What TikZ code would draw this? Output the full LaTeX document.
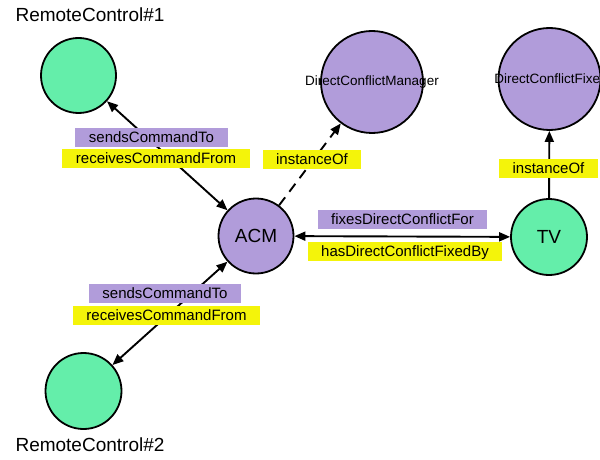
\documentclass[tikz,border=0pt]{standalone}
\usepackage{fontspec}
\setmainfont{Liberation Sans}
\usetikzlibrary{arrows.meta}
\definecolor{ngreen}{RGB}{100,238,170}
\definecolor{npurple}{RGB}{177,156,218}
\definecolor{lyellow}{RGB}{244,244,10}
\begin{document}
\begin{tikzpicture}[x=1pt,y=-1pt,
  ent/.style={circle,draw=black,line width=1.8pt,inner sep=0pt},
  gnode/.style={ent,fill=ngreen},
  pnode/.style={ent,fill=npurple},
  big/.style={font=\fontsize{19}{22}\selectfont},
  small/.style={font=\fontsize{13.5}{16}\selectfont},
  lab/.style={font=\fontsize{15}{18}\selectfont,inner xsep=13.5pt,inner ysep=0pt,minimum height=19pt,text depth=0pt},
  plab/.style={lab,fill=npurple},
  ylab/.style={lab,fill=lyellow},
  edge/.style={line width=1.9pt,draw=black},
  tip/.style={-{Triangle[length=11pt,width=9pt]}},
  dtip/.style={{Triangle[length=11pt,width=9pt]}-{Triangle[length=11pt,width=9pt]}}
]
\clip (0,0) rectangle (600,460);
\fill[white] (0,0) rectangle (600,460);

% nodes
\node[gnode,minimum size=75pt] (rc1) at (78.5,75.5) {};
\node[gnode,minimum size=76pt] (rc2) at (83.5,391) {};
\node[pnode,minimum size=75pt,big] (acm) at (256,236) {ACM};
\node[gnode,minimum size=76pt,big] (tv) at (549,237) {TV};
\node[pnode,minimum size=102pt] (dcm) at (372,82) {};
\node[pnode,minimum size=102pt] (dcf) at (549.5,79) {};
\node[small] (dcmt) at (dcm.center) {DirectConflictManager};
\node[small] (dcft) at (dcf.center) {DirectConflictFixer};

\node[big,anchor=base west] (rc1t) at (12,22) {RemoteControl\#1};
\node[big,anchor=base west] (rc2t) at (12,451) {RemoteControl\#2};

% edges
\draw[edge,dtip] (acm) -- (rc1);
\draw[edge,dtip] (acm) -- (rc2);
\draw[edge,dtip] (acm) -- (tv);
\draw[edge,tip,dash pattern=on 10pt off 7pt] (acm) -- (dcm);
\draw[edge,tip] (tv) -- (dcf);

% labels
\node[plab] (l1a) at (151.5,137) {sendsCommandTo};
\node[ylab] (l1b) at (156,158.5) {receivesCommandFrom};
\node[plab] (l2a) at (165,293.5) {sendsCommandTo};
\node[ylab] (l2b) at (166.5,315.5) {receivesCommandFrom};
\node[plab] (l3a) at (402.5,219) {fixesDirectConflictFor};
\node[ylab] (l3b) at (405,251.5) {hasDirectConflictFixedBy};
\node[ylab] (l4) at (312,159) {instanceOf};
\node[ylab] (l5) at (548.5,168) {instanceOf};
\end{tikzpicture}
\end{document}
